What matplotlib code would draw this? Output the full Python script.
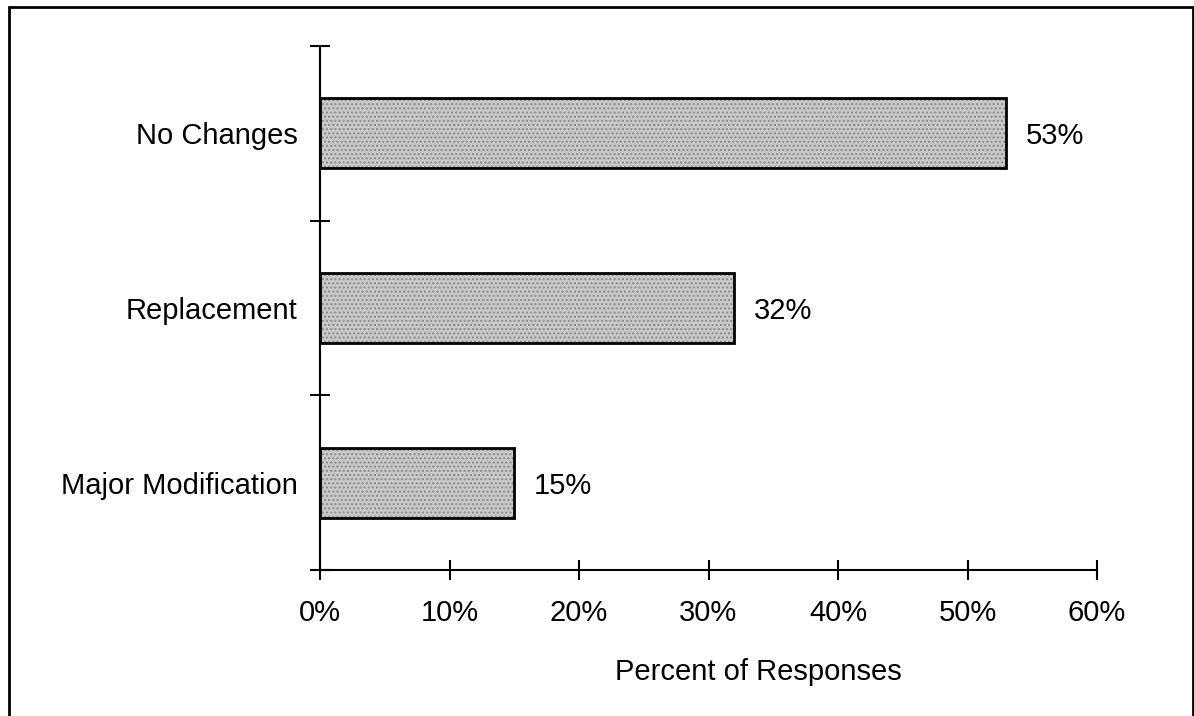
import matplotlib.pyplot as plt
import matplotlib.patches as patches
from matplotlib.ticker import FuncFormatter

plt.rcParams['font.family'] = ['Liberation Sans', 'DejaVu Sans']

# dati
categories = ['Major Modification', 'Replacement', 'No Changes']
percents = [15, 32, 53]
x_ticks = [0, 10, 20, 30, 40, 50, 60]

fig = plt.figure(figsize=(11.94, 7.16), dpi=100)
ax = fig.add_axes([320/1194, 1 - 570/716, 777/1194, 524/716])

pos = list(range(len(categories)))
# riempimento grigio "puntinato"
ax.barh(pos, percents, height=0.4, color='#c9c9c9', edgecolor='#888888',
        hatch='....', linewidth=0, zorder=2)
ax.barh(pos, percents, height=0.4, fill=False, edgecolor='black',
        linewidth=2, zorder=3)

for p, v in zip(pos, percents):
    ax.annotate(f'{v}%', (v, p), xytext=(14, 0), textcoords='offset points',
                va='center_baseline', ha='left', fontsize=21)

ax.set_xlim(0, 60)
ax.set_ylim(-0.5, len(categories) - 0.5)
ax.set_xticks(x_ticks)
ax.xaxis.set_major_formatter(FuncFormatter(lambda v, _: f'{v:.0f}%'))
ax.tick_params(axis='x', direction='inout', length=14, width=1.5,
               labelsize=21, pad=14)

# tick a confine tra categorie, etichette al centro
ax.set_yticks([p - 0.5 for p in pos] + [len(categories) - 0.5])
ax.set_yticklabels([])
ax.set_yticks(pos, minor=True)
ax.set_yticklabels(categories, minor=True)
ax.tick_params(axis='y', which='major', direction='inout', length=14, width=1.5)
ax.tick_params(axis='y', which='minor', length=0, labelsize=21, pad=16)

for s in ['top', 'right']:
    ax.spines[s].set_visible(False)
for s in ['left', 'bottom']:
    ax.spines[s].set_linewidth(1.5)

# etichetta asse x un po' spostata a destra come nell'originale
ax.set_xlabel('Percent of Responses', fontsize=21)
ax.xaxis.set_label_coords(0.5637, -0.167)

# cornice
fig.patches.append(patches.Rectangle((9/1194, -0.05), 1184/1194, 1.05 - 7/716,
                                     transform=fig.transFigure, fill=False,
                                     edgecolor='black', linewidth=2))

fig.savefig('out.png', dpi=100)
